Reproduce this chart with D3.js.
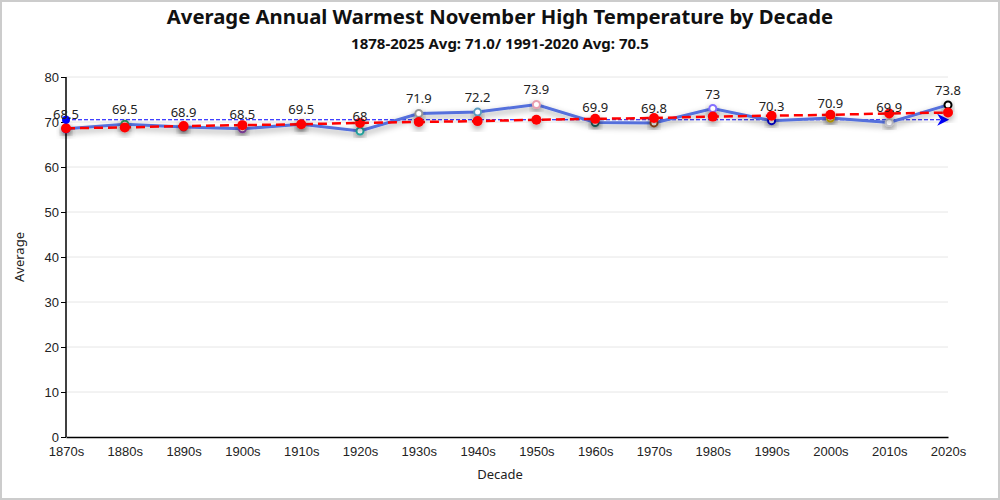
<!DOCTYPE html>
<html lang="en">
<head>
  <meta charset="UTF-8">
  <title>Average Annual Warmest November High Temperature by Decade</title>
  <script src="https://cdn.jsdelivr.net/npm/d3@7"></script>
  <style>
    html, body { margin: 0; padding: 0; background: #fff; }
    svg { display: block; font-family: "Noto Sans", "DejaVu Sans", sans-serif; }
  </style>
</head>
<body>
<div id="chart"></div>
<script>
  const decades = ['1870s', '1880s', '1890s', '1900s', '1910s', '1920s', '1930s', '1940s',
    '1950s', '1960s', '1970s', '1980s', '1990s', '2000s', '2010s', '2020s'];
  const averages = [68.5, 69.5, 68.9, 68.5, 69.5, 68, 71.9, 72.2, 73.9, 69.9, 69.8, 73, 70.3, 70.9, 69.9, 73.8];
  const trend = [68.6, 68.8, 69.1, 69.3, 69.5, 69.8, 70.0, 70.2, 70.5, 70.7, 70.9, 71.2, 71.4, 71.6, 71.9, 72.1];
  const pointColors = ['#0000ff', '#2e8b57', '#8b1a3a', '#8e44ad', '#e08e0b', '#20a39e', '#999999', '#5b9bbf',
    '#e8a0b0', '#1f5f5b', '#8b4513', '#8470ff', '#0000cd', '#d4b106', '#c0c0c8', '#000000'];
  const yTicks = [0, 10, 20, 30, 40, 50, 60, 70, 80];
  const avgLine = 70.5;

  const w = 1000, h = 500;
  const margin = { left: 66, right: 52, top: 77, bottom: 63 };

  const svg = d3.select('#chart').append('svg')
    .attr('width', w)
    .attr('height', h);

  const defs = svg.append('defs');
  const shadow = defs.append('filter').attr('id', 'shadow')
    .attr('x', '-50%').attr('y', '-50%').attr('width', '200%').attr('height', '200%');
  shadow.append('feDropShadow')
    .attr('dx', 0).attr('dy', 3).attr('stdDeviation', 3)
    .attr('flood-color', '#000').attr('flood-opacity', 0.4);
  defs.append('marker')
    .attr('id', 'arrow')
    .attr('viewBox', '0 0 10 10')
    .attr('refX', 9).attr('refY', 5)
    .attr('markerWidth', 18).attr('markerHeight', 12)
    .attr('markerUnits', 'userSpaceOnUse')
    .attr('orient', 'auto')
    .append('path')
    .attr('d', 'M0,0 L10,5 L0,10 L3,5 Z')
    .attr('fill', '#0000ff');

  // border
  svg.append('rect')
    .attr('x', 1).attr('y', 1)
    .attr('width', w - 2).attr('height', h - 2)
    .attr('fill', 'none')
    .attr('stroke', '#cccccc')
    .attr('stroke-width', 2);

  const xScale = d3.scalePoint()
    .domain(decades)
    .range([margin.left, w - margin.right]);
  const yScale = d3.scaleLinear()
    .domain([0, 80])
    .range([h - margin.bottom, margin.top]);

  // grid
  svg.append('g')
    .selectAll('line')
    .data(yTicks.filter(d => d > 0))
    .enter()
    .append('line')
    .attr('x1', margin.left)
    .attr('x2', w - margin.right)
    .attr('y1', d => yScale(d))
    .attr('y2', d => yScale(d))
    .attr('stroke', '#e6e6e6')
    .attr('stroke-width', 1);

  const xAxis = d3.axisBottom(xScale).tickSize(0).tickPadding(10);
  const yAxis = d3.axisLeft(yScale).tickValues(yTicks).tickSize(5).tickPadding(2);

  const gx = svg.append('g')
    .attr('transform', `translate(0, ${h - margin.bottom})`)
    .call(xAxis);
  gx.select('.domain').attr('stroke', '#000').attr('stroke-width', 1.5);
  gx.selectAll('text').attr('font-size', 13).attr('fill', '#222').style('font-family', 'inherit');

  const gy = svg.append('g')
    .attr('transform', `translate(${margin.left}, 0)`)
    .call(yAxis);
  gy.select('.domain').attr('stroke', '#000').attr('stroke-width', 1.5).attr('d', `M0,${yScale(80)}V${yScale(0)}`);
  gy.selectAll('.tick line').attr('stroke', '#000');
  gy.selectAll('text').attr('font-size', 13).attr('fill', '#222').style('font-family', 'inherit');

  // average line
  svg.append('line')
    .attr('x1', xScale(decades[0]))
    .attr('x2', xScale(decades[decades.length - 1]))
    .attr('y1', yScale(avgLine))
    .attr('y2', yScale(avgLine))
    .attr('stroke', '#0000ff')
    .attr('stroke-width', 1)
    .attr('stroke-dasharray', '4,2')
    .attr('marker-end', 'url(#arrow)');

  // main series
  const line = d3.line()
    .x((d, i) => xScale(decades[i]))
    .y(d => yScale(d));

  svg.append('path')
    .datum(averages)
    .attr('d', line)
    .attr('fill', 'none')
    .attr('stroke', '#5470dc')
    .attr('stroke-width', 3)
    .attr('filter', 'url(#shadow)');

  svg.append('g')
    .selectAll('circle')
    .data(averages)
    .enter()
    .append('circle')
    .attr('cx', (d, i) => xScale(decades[i]))
    .attr('cy', d => yScale(d))
    .attr('r', 3.5)
    .attr('fill', '#fff')
    .attr('stroke', (d, i) => pointColors[i])
    .attr('stroke-width', 2)
    .attr('filter', 'url(#shadow)');

  // trend series
  svg.append('path')
    .datum(trend)
    .attr('d', line)
    .attr('fill', 'none')
    .attr('stroke', '#ff0000')
    .attr('stroke-width', 2.5)
    .attr('stroke-dasharray', '9,5');

  svg.append('g')
    .selectAll('circle')
    .data(trend)
    .enter()
    .append('circle')
    .attr('cx', (d, i) => xScale(decades[i]))
    .attr('cy', d => yScale(d))
    .attr('r', 5)
    .attr('fill', '#ff0000')
    .attr('filter', 'url(#shadow)');

  // average line start symbol
  svg.append('circle')
    .attr('cx', xScale(decades[0]))
    .attr('cy', yScale(avgLine))
    .attr('r', 4)
    .attr('fill', '#0000ff');

  // labels
  svg.append('g')
    .selectAll('text')
    .data(averages)
    .enter()
    .append('text')
    .attr('x', (d, i) => xScale(decades[i]))
    .attr('y', d => yScale(d) - 10)
    .attr('text-anchor', 'middle')
    .attr('font-size', 13)
    .attr('fill', '#222')
    .text(d => d);

  // titles
  svg.append('text')
    .attr('x', w / 2).attr('y', 24)
    .attr('text-anchor', 'middle')
    .attr('font-size', 20.3)
    .attr('font-weight', 'bold')
    .attr('fill', '#111')
    .text('Average Annual Warmest November High Temperature by Decade');
  svg.append('text')
    .attr('x', w / 2).attr('y', 49)
    .attr('text-anchor', 'middle')
    .attr('font-size', 15)
    .attr('font-weight', 'bold')
    .attr('fill', '#111')
    .text('1878-2025 Avg: 71.0/ 1991-2020 Avg: 70.5');

  svg.append('text')
    .attr('x', w / 2).attr('y', 479)
    .attr('text-anchor', 'middle')
    .attr('font-size', 13)
    .attr('fill', '#222')
    .text('Decade');
  svg.append('text')
    .attr('transform', `translate(24, ${(yScale(0) + yScale(80)) / 2}) rotate(-90)`)
    .attr('text-anchor', 'middle')
    .attr('font-size', 13)
    .attr('fill', '#222')
    .text('Average');
</script>
</body>
</html>
